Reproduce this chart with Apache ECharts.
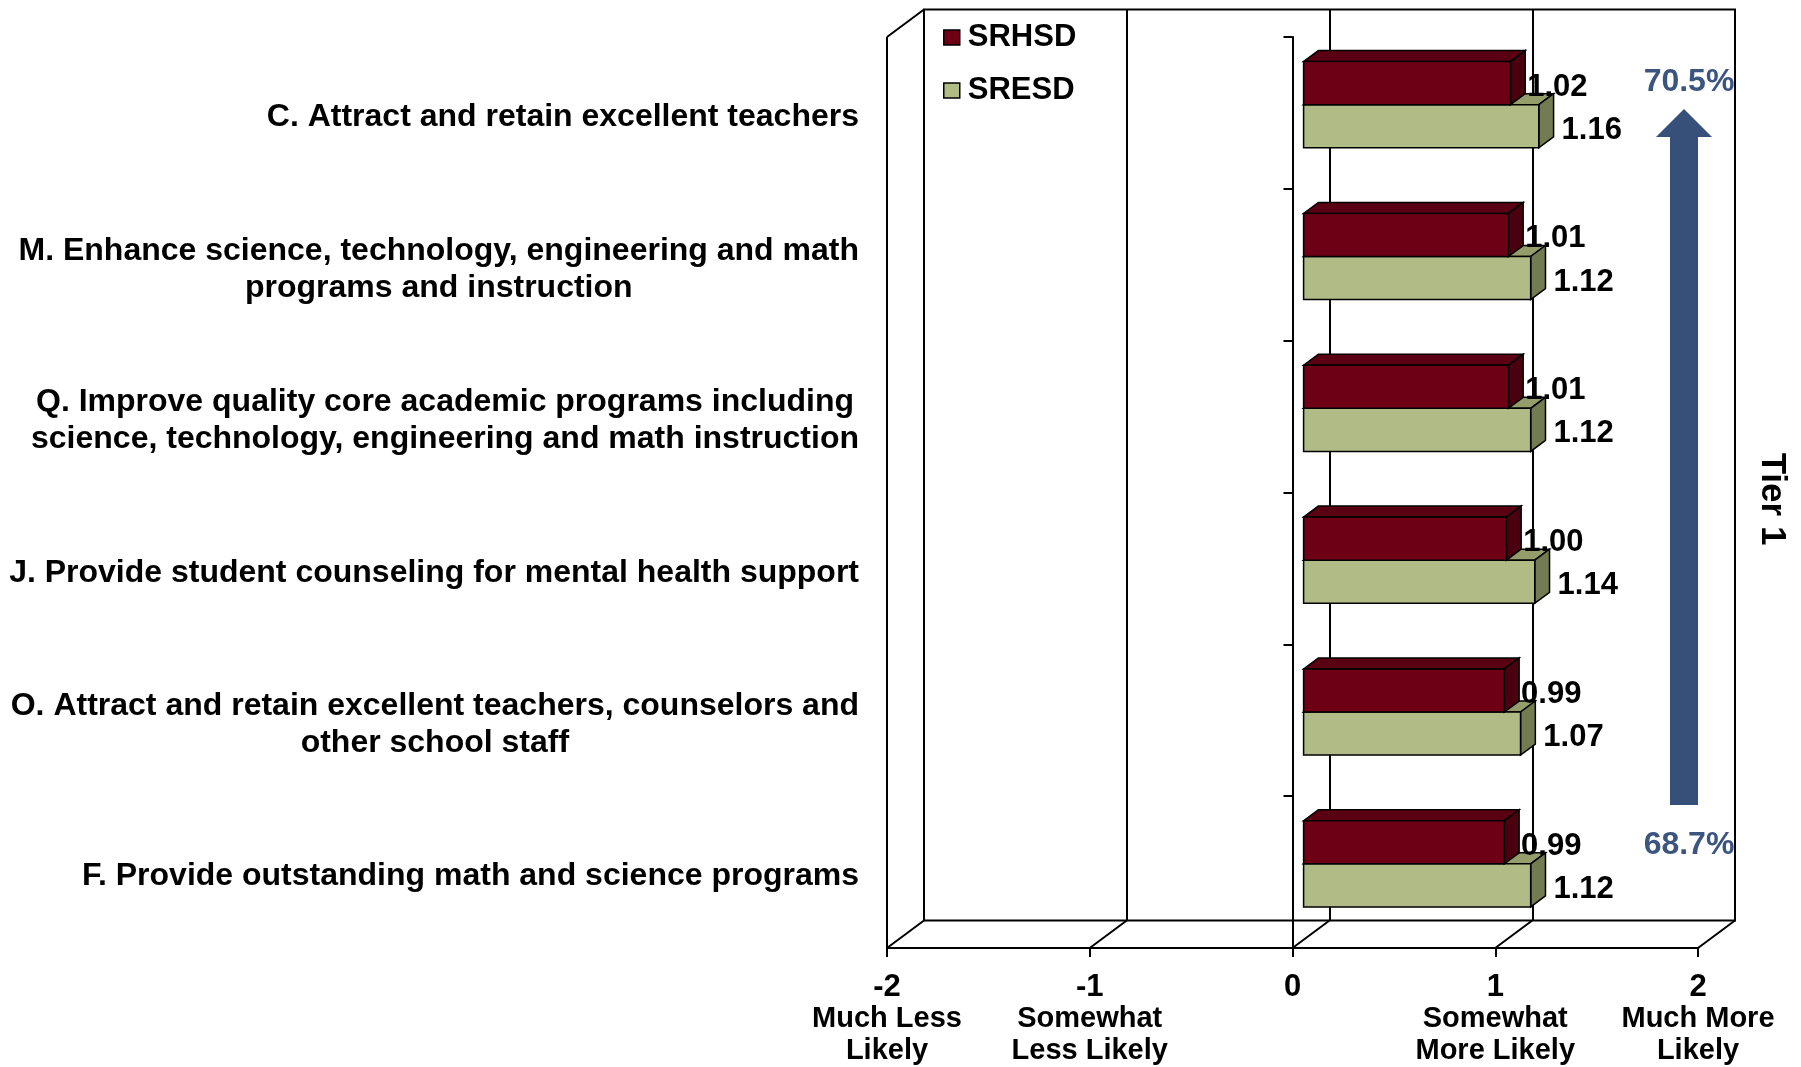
<!DOCTYPE html>
<html>
<head>
<meta charset="utf-8">
<title>Tier 1</title>
<style>
  html, body { margin: 0; padding: 0; background: #fff; }
  #chart { width: 1801px; height: 1067px; }
</style>
<script src="https://cdn.jsdelivr.net/npm/echarts@6/dist/echarts.min.js"></script>
</head>
<body>
<div id="chart"></div>
<script>
// data
var categories = [
  'C. Attract and retain excellent teachers',
  'M. Enhance science, technology, engineering and math\nprograms and instruction',
  'Q. Improve quality core academic programs including\nscience, technology, engineering and math instruction',
  'J. Provide student counseling for mental health support',
  'O. Attract and retain excellent teachers, counselors and\nother school staff',
  'F. Provide outstanding math and science programs'
]
var srhsd = [1.02, 1.01, 1.01, 1.00, 0.99, 0.99]
var sresd = [1.16, 1.12, 1.12, 1.14, 1.07, 1.12]
var tickValues = [-2, -1, 0, 1, 2]
var tickTexts = ['Much Less\nLikely', 'Somewhat\nLess Likely', '', 'Somewhat\nMore Likely', 'Much More\nLikely']
var topPct = '70.5%'
var bottomPct = '68.7%'
var tierLabel = 'Tier 1'

var FONT = '"Liberation Sans", Arial, sans-serif'
// depth of the 3d box (px)
var DX = 37
var DY = -27.5

function bar3d(colors, upper, labelPad) {
  return function (params, api) {
    var val = api.value(0)
    var cat = api.value(1)
    var c0 = api.coord([0, cat])
    var c1 = api.coord([val, cat])
    var h = api.size([0, 1])[1] * 0.284
    var ddx = DX * 0.4
    var ddy = DY * 0.4
    var x0 = c0[0] + DX * 0.3
    var x1 = c1[0] + DX * 0.3
    var mid = c0[1] + DY * 0.3
    var yt = upper ? mid - h : mid
    var yb = upper ? mid : mid + h
    var edge = { stroke: '#000', lineWidth: 1.5 }
    return {
      type: 'group',
      children: [
        {
          type: 'polygon',
          shape: { points: [[x0, yt], [x1, yt], [x1 + ddx, yt + ddy], [x0 + ddx, yt + ddy]] },
          style: Object.assign({ fill: colors[1] }, edge)
        },
        {
          type: 'polygon',
          shape: { points: [[x1, yt], [x1 + ddx, yt + ddy], [x1 + ddx, yb + ddy], [x1, yb]] },
          style: Object.assign({ fill: colors[2] }, edge)
        },
        {
          type: 'rect',
          shape: { x: x0, y: yt, width: x1 - x0, height: yb - yt },
          style: Object.assign({ fill: colors[0] }, edge)
        },
        {
          type: 'text',
          x: x1 + ddx + labelPad,
          y: (yt + yb) / 2 + 4,
          style: {
            text: val.toFixed(2),
            fill: '#000',
            fontSize: 31,
            fontWeight: 'bold',
            fontFamily: FONT,
            align: 'left',
            verticalAlign: 'middle'
          }
        }
      ]
    }
  }
}

// left wall edge, floor diagonals
function frame(params, api) {
  var v = api.value(0)
  var x = api.coord([v, 0])[0]
  var sys = params.coordSys
  var bottom = sys.y + sys.height
  var line = { stroke: '#000', lineWidth: 2 }
  var children = [
    { type: 'line', shape: { x1: x, y1: bottom, x2: x + DX, y2: bottom + DY }, style: line }
  ]
  if (v === tickValues[0]) {
    children.push({ type: 'line', shape: { x1: x, y1: sys.y, x2: x, y2: bottom }, style: line })
    children.push({ type: 'line', shape: { x1: x, y1: sys.y, x2: x + DX, y2: sys.y + DY }, style: line })
  }
  return { type: 'group', children: children }
}

var chart = echarts.init(document.getElementById('chart'))

chart.setOption({
  animation: false,
  backgroundColor: '#fff',
  textStyle: { fontFamily: FONT },
  grid: [
    { left: 887, right: 103, top: 37, bottom: 119 },
    { left: 887 + DX, right: 103 - DX, top: 37 + DY, bottom: 119 - DY, show: true, borderColor: '#000', borderWidth: 2 }
  ],
  legend: {
    orient: 'vertical',
    left: 938,
    top: 17,
    itemWidth: 16,
    itemHeight: 15,
    itemGap: 22,
    selectedMode: false,
    textStyle: { fontSize: 31, fontWeight: 'bold', color: '#000', fontFamily: FONT, lineHeight: 30, padding: [0, 0, 0, 3] },
    data: [
      { name: 'SRHSD', icon: 'rect', itemStyle: { color: '#6e0016', borderColor: '#000', borderWidth: 1.5 } },
      { name: 'SRESD', icon: 'rect', itemStyle: { color: '#b0bb85', borderColor: '#000', borderWidth: 1.5 } }
    ]
  },
  xAxis: [
    {
      type: 'value',
      gridIndex: 0,
      min: -2,
      max: 2,
      interval: 1,
      axisLine: { show: true, lineStyle: { color: '#000', width: 2 } },
      axisTick: { show: true, length: 9, lineStyle: { color: '#000', width: 2 } },
      splitLine: { show: false },
      axisLabel: {
        margin: 23,
        formatter: function (v) {
          var t = tickTexts[tickValues.indexOf(v)]
          var s = '{n|' + v + '}'
          if (t) {
            s += '\n' + t.split('\n').map(function (p) { return '{t|' + p + '}' }).join('\n')
          }
          return s
        },
        rich: {
          n: { fontSize: 31, fontWeight: 'bold', color: '#000', fontFamily: FONT, lineHeight: 32 },
          t: { fontSize: 29, fontWeight: 'bold', color: '#000', fontFamily: FONT, lineHeight: 32 }
        }
      }
    },
    {
      type: 'value',
      gridIndex: 1,
      min: -2,
      max: 2,
      interval: 1,
      axisLine: { show: false },
      axisTick: { show: false },
      axisLabel: { show: false },
      splitLine: { show: true, lineStyle: { color: '#000', width: 2 } }
    }
  ],
  yAxis: [
    {
      type: 'category',
      gridIndex: 0,
      position: 'left',
      data: categories,
      inverse: true,
      axisLine: { show: true, onZero: true, lineStyle: { color: '#000', width: 2 } },
      axisTick: { show: true, length: 9, lineStyle: { color: '#000', width: 2 } },
      axisLabel: { show: false }
    },
    {
      type: 'category',
      gridIndex: 0,
      position: 'left',
      data: categories,
      inverse: true,
      axisLine: { show: false, onZero: false },
      axisTick: { show: false },
      axisLabel: {
        margin: 28,
        align: 'right',
        padding: [9, 0, 0, 0],
        formatter: function (v) {
          return v.split('\n').map(function (p) { return '{c|' + p + '}' }).join('\n')
        },
        rich: {
          c: { fontSize: 32, fontWeight: 'bold', color: '#000', fontFamily: FONT, lineHeight: 37, align: 'center' }
        }
      }
    },
    { type: 'value', gridIndex: 1, show: false }
  ],
  series: [
    {
      name: 'frame',
      type: 'custom',
      xAxisIndex: 0,
      yAxisIndex: 0,
      silent: true,
      clip: false,
      z: 1,
      renderItem: frame,
      encode: { x: 0 },
      data: tickValues.map(function (v) { return [v, 0] })
    },
    {
      name: 'SRESD',
      type: 'custom',
      xAxisIndex: 0,
      yAxisIndex: 0,
      clip: false,
      z: 3,
      itemStyle: { color: '#b0bb85' },
      renderItem: bar3d(['#b0bb85', '#959e6b', '#737b52'], false, 8),
      encode: { x: 0, y: 1 },
      data: sresd.map(function (v, i) { return [v, i] })
    },
    {
      name: 'SRHSD',
      type: 'custom',
      xAxisIndex: 0,
      yAxisIndex: 0,
      clip: false,
      z: 4,
      itemStyle: { color: '#6e0016' },
      renderItem: bar3d(['#6e0016', '#5a0012', '#4a000f'], true, 2),
      encode: { x: 0, y: 1 },
      data: srhsd.map(function (v, i) { return [v, i] })
    }
  ],
  graphic: [
    {
      type: 'polygon',
      silent: true,
      shape: { points: [[1684, 109], [1712, 137], [1698, 137], [1698, 805], [1670, 805], [1670, 137], [1656, 137]] },
      style: { fill: '#36507a' }
    },
    {
      type: 'text', x: 1689, y: 82, silent: true,
      style: { text: topPct, fill: '#3b5580', fontSize: 32, fontWeight: 'bold', fontFamily: FONT, align: 'center', verticalAlign: 'middle' }
    },
    {
      type: 'text', x: 1689, y: 845, silent: true,
      style: { text: bottomPct, fill: '#3b5580', fontSize: 32, fontWeight: 'bold', fontFamily: FONT, align: 'center', verticalAlign: 'middle' }
    },
    {
      type: 'text', x: 1772, y: 499, rotation: -Math.PI / 2, silent: true,
      style: { text: tierLabel, fill: '#000', fontSize: 35, fontWeight: 'bold', fontFamily: FONT, align: 'center', verticalAlign: 'middle' }
    }
  ]
})
</script>
</body>
</html>
